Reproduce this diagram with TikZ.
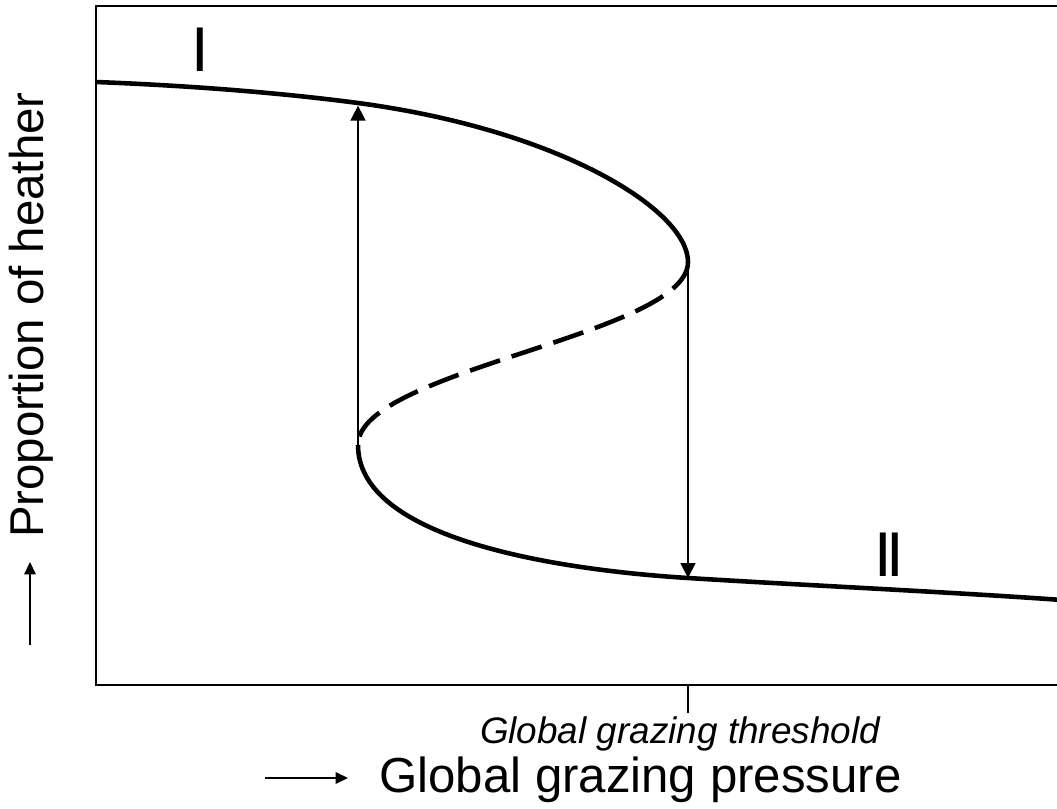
\documentclass[tikz,border=0pt]{standalone}
\usepackage{fontspec}
\setmainfont{Liberation Sans}
\usetikzlibrary{arrows.meta, positioning}

\begin{document}
\begin{tikzpicture}[
    x=0.02cm, y=-0.02cm,
    frame/.style     = {line width=1.1pt},
    branch/.style    = {line width=2.6pt},
    unstable/.style  = {line width=2.6pt, dash pattern=on 18pt off 7pt},
    jump/.style      = {-{Triangle[length=8.5pt, width=8.5pt]}, line width=0.9pt},
    axisarrow/.style = {-{Triangle[length=7pt, width=6.5pt]}, line width=0.9pt},
    statelabel/.style = {font=\fontsize{36}{40}\selectfont, inner sep=0pt}
  ]
  \useasboundingbox (0,0) rectangle (1057,808);

  % frame, open on the right
  \draw[frame] (1062,6) -- (96,6) -- (96,685) -- (1062,685);

  \coordinate (upL)    at (96,82);
  \coordinate (jumpUp) at (358,103);
  \coordinate (foldHi) at (688,262);
  \coordinate (foldLo) at (358,445);
  \coordinate (jumpDn) at (688,578);
  \coordinate (endR)   at (1062,600);

  % stable and unstable branches
  \draw[branch] (upL) .. controls (200,86) and (290,94) .. (jumpUp)
                .. controls (560,130) and (688,210) .. (foldHi);
  \draw[unstable] (foldHi) .. controls (688,335) and (358,370) .. (foldLo);
  \draw[branch] (foldLo) .. controls (358,540) and (560,570) .. (jumpDn)
                .. controls (800,585) and (950,592) .. (endR);

  % jumps
  \draw[jump, shorten >=1.5pt] (foldLo) -- (jumpUp);
  \draw[jump] (foldHi) -- (jumpDn);

  \node[statelabel] (stateI)  at (200,50)  {I};
  \node[statelabel] (stateII) at (889,555) {I\kern-3pt I};

  % threshold tick
  \coordinate (thrTop) at (688,685);
  \coordinate (thrBot) at (688,713);
  \draw[frame] (thrTop) -- (thrBot);
  \node[font=\fontsize{21}{24}\selectfont\itshape, anchor=base] (thrLabel)
    at (680,743) {Global grazing threshold};

  % axis labels
  \node[font=\fontsize{28}{32}\selectfont, anchor=base west] (xlabel)
    at (373,792) {Global grazing pressure};
  \coordinate (xArrS) at (265,778);
  \coordinate (xArrE) at (348,778);
  \draw[axisarrow] (xArrS) -- (xArrE);

  \node[font=\fontsize{27}{30}\selectfont, rotate=90, anchor=base] (ylabel)
    at (43,315) {Proportion of heather};
  \coordinate (yArrS) at (30,645);
  \coordinate (yArrE) at (30,562);
  \draw[axisarrow] (yArrS) -- (yArrE);
\end{tikzpicture}
\end{document}
